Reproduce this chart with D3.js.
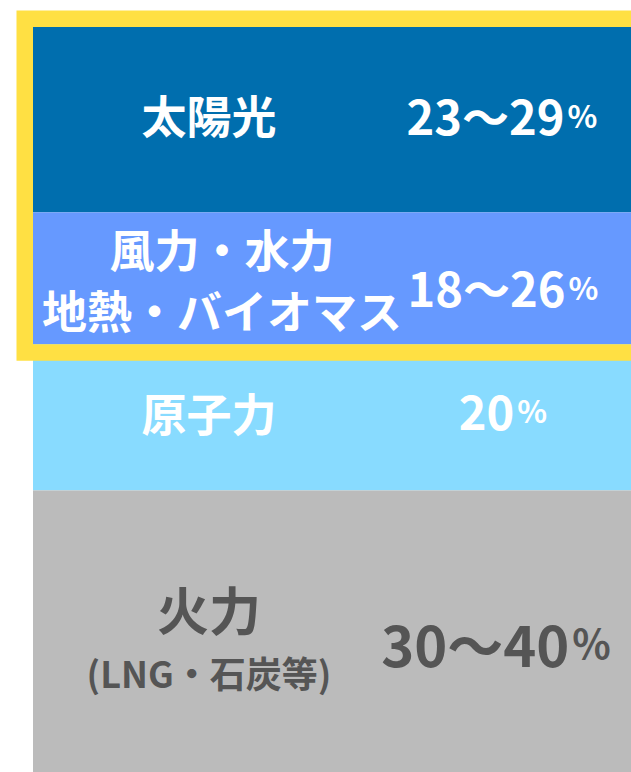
<!DOCTYPE html>
<html>
<head>
<meta charset="utf-8">
<script src="https://cdn.jsdelivr.net/npm/d3@7"></script>
<style>
  body { margin: 0; background: #fff; }
  text { font-family: "Noto Sans CJK JP", "Noto Sans", sans-serif; font-weight: 700; }
</style>
</head>
<body>
<div id="chart"></div>
<script>
// power mix segments, top to bottom
var categories = ["太陽光", "風力・水力|地熱・バイオマス", "原子力", "火力|(LNG・石炭等)"];
var shares = [26, 18.5, 20.5, 39.5];
var rangeLow = [23, 18, 20, 30];
var rangeHigh = [29, 26, null, 40];
var highlighted = [true, true, false, false];

var width = 631;
var height = 772;
var margin = { top: 27, left: 33 };

var colors = ["#006eae", "#6699ff", "#88dbff", "#bbbbbb"];
var textColors = ["#fff", "#fff", "#fff", "#555"];

var svg = d3
  .select("#chart")
  .append("svg")
  .attr("width", width)
  .attr("height", height);

var total = d3.sum(shares);
var yScale = d3
  .scaleLinear()
  .domain([0, total])
  .range([margin.top, height]);

var data = shares.map(function(v, i) {
  var start = d3.sum(shares.slice(0, i));
  return {
    name: categories[i],
    start: start,
    end: start + v,
    low: rangeLow[i],
    high: rangeHigh[i],
    hl: highlighted[i],
    i: i
  };
});

svg
  .selectAll("rect.seg")
  .data(data)
  .enter()
  .append("rect")
  .attr("class", "seg")
  .attr("x", margin.left)
  .attr("y", function(d) { return yScale(d.start); })
  .attr("width", width - margin.left)
  .attr("height", function(d) { return yScale(d.end) - yScale(d.start); })
  .attr("fill", function(d) { return colors[d.i]; });

// yellow frame around the renewables
var hlData = data.filter(function(d) { return d.hl; });
var frameTop = yScale(d3.min(hlData, function(d) { return d.start; }));
var frameBottom = yScale(d3.max(hlData, function(d) { return d.end; }));
var sw = 16.5;
svg
  .append("rect")
  .attr("x", margin.left - sw / 2)
  .attr("y", frameTop - sw / 2)
  .attr("width", width)
  .attr("height", frameBottom - frameTop + sw)
  .attr("fill", "none")
  .attr("stroke", "#ffe043")
  .attr("stroke-width", sw);

var labelX = 209;
var valueX = [502, 503, 503, 496];
var bigSize = [45, 45, 45, 52];
var subSize = 36;
var numSize = [47, 47, 47, 56];
var pctSize = [31, 31, 31, 40];

data.forEach(function(d) {
  var cy = (yScale(d.start) + yScale(d.end)) / 2;
  var lines = d.name.split("|");
  var g = svg.append("g").attr("fill", textColors[d.i]);

  if (d.i === 1) {
    g.append("text")
      .attr("x", 222)
      .attr("y", cy - 30)
      .attr("text-anchor", "middle")
      .attr("dominant-baseline", "central")
      .style("font-size", bigSize[d.i] + "px")
      .text(lines[0]);
    g.append("text")
      .attr("x", 222)
      .attr("y", cy + 31)
      .attr("text-anchor", "middle")
      .attr("dominant-baseline", "central")
      .style("font-size", bigSize[d.i] + "px")
      .text(lines[1]);
  } else if (d.i === 3) {
    g.append("text")
      .attr("x", labelX)
      .attr("y", cy - 23)
      .attr("text-anchor", "middle")
      .attr("dominant-baseline", "central")
      .style("font-size", bigSize[d.i] + "px")
      .text(lines[0]);
    g.append("text")
      .attr("x", labelX)
      .attr("y", cy + 41)
      .attr("text-anchor", "middle")
      .attr("dominant-baseline", "central")
      .style("font-size", subSize + "px")
      .text(lines[1]);
  } else {
    g.append("text")
      .attr("x", labelX)
      .attr("y", cy - 5)
      .attr("text-anchor", "middle")
      .attr("dominant-baseline", "central")
      .style("font-size", bigSize[d.i] + "px")
      .text(lines[0]);
  }

  var valueY = [114, 286, 409, 642][d.i];
  var t = g.append("text")
    .attr("x", valueX[d.i])
    .attr("y", valueY)
    .attr("text-anchor", "middle")
    .attr("dominant-baseline", "central");
  t.append("tspan")
    .style("font-size", numSize[d.i] + "px")
    .text(d.high == null ? d.low : d.low + "〜" + d.high);
  t.append("tspan")
    .style("font-size", pctSize[d.i] + "px")
    .attr("dx", 3)
    .text("%");
});
</script>
</body>
</html>
